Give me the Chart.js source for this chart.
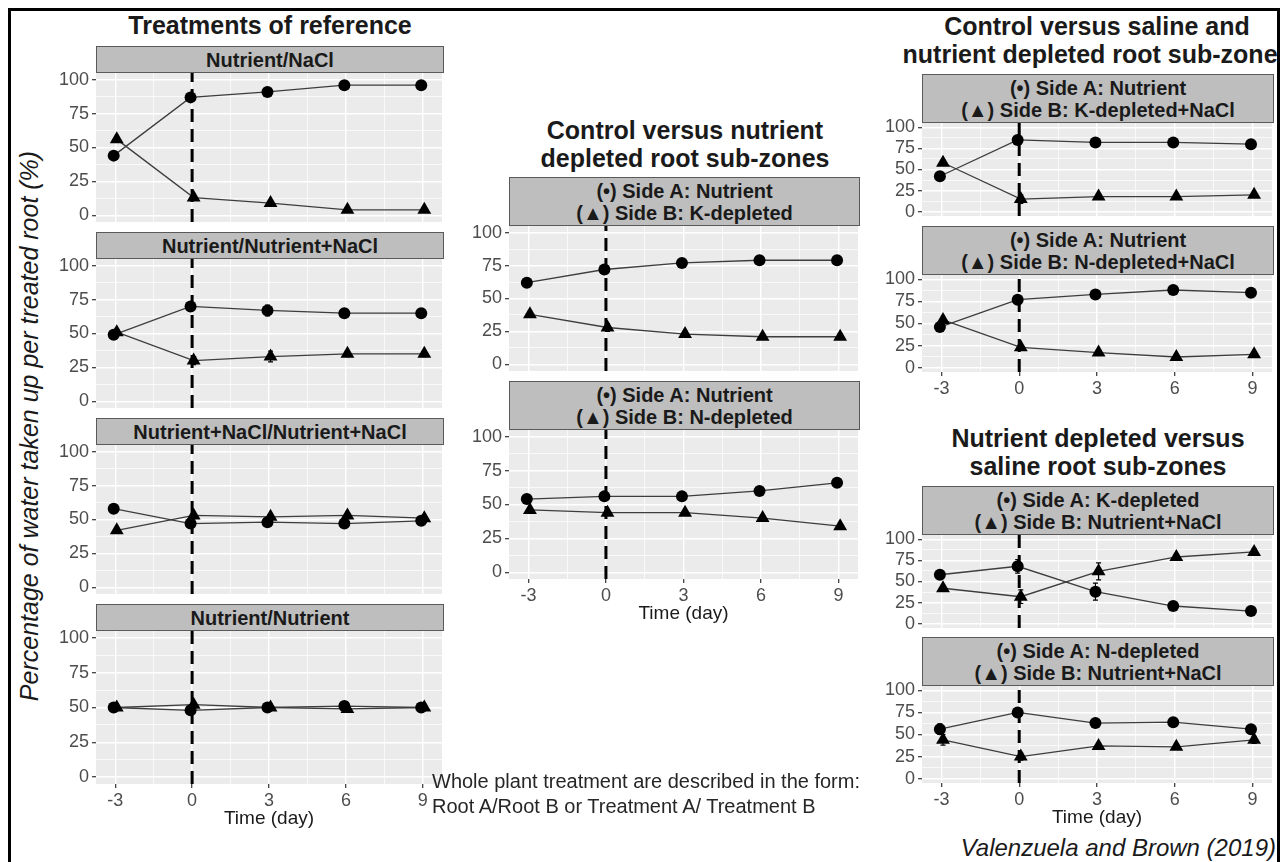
<!DOCTYPE html>
<html lang="en">
<head>
<meta charset="UTF-8">
<title>Percentage of water taken up per treated root</title>
<script src="https://cdn.jsdelivr.net/npm/chart.js"></script>
<style>
  body { margin: 0; background: #fff; font-family: "Liberation Sans", Arial, sans-serif; }
  #fig { position: relative; width: 1280px; height: 862px; overflow: hidden; }
  #frame { position: absolute; left: 8px; top: 8px; width: 1272px; height: 880px; border: 3px solid #000; box-sizing: border-box; z-index: 10; }
  .title { position: absolute; width: 600px; text-align: center; font-weight: bold; font-size: 25px; line-height: 28px; color: #1a1a1a; white-space: nowrap; }
  .strip { position: absolute; background: #bebebe; border: 1px solid #5a5a5a; box-sizing: border-box; display: flex; align-items: center; justify-content: center; text-align: center; font-weight: bold; font-size: 20px; line-height: 22px; color: #1a1a1a; z-index: 2; white-space: nowrap; }
  .panel { position: absolute; }
  .ylab { position: absolute; left: -321px; top: 411px; width: 700px; height: 30px; line-height: 30px; text-align: center; font-style: italic; font-size: 25px; color: #1a1a1a; transform: rotate(-90deg); white-space: nowrap; }
  .note { position: absolute; left: 432px; top: 769px; font-size: 20px; line-height: 25px; color: #262626; white-space: nowrap; z-index: 3; }
  .cite { position: absolute; left: 880px; top: 834px; width: 396px; text-align: right; font-style: italic; font-size: 24px; line-height: 28px; color: #1a1a1a; white-space: nowrap; }
</style>
</head>
<body>
<div id="fig">
  <div id="frame"></div>
  <div class="title" style="left:-30px; top:11px;">Treatments of reference</div>
  <div class="title" style="left:385px; top:116px;">Control versus nutrient<br>depleted root sub-zones</div>
  <div class="title" style="left:797px; top:12px;">Control versus saline and<br>nutrient depleted root sub-zones</div>
  <div class="title" style="left:798px; top:424px;">Nutrient depleted versus<br>saline root sub-zones</div>
  <div class="ylab">Percentage of water taken up per treated root (%)</div>
  <div class="note">Whole plant treatment are described in the form:<br>Root A/Root B or Treatment A/ Treatment B</div>
  <div class="cite">Valenzuela and Brown (2019)</div>
</div>

<script>
    Chart.defaults.font.family = '"Liberation Sans", Arial, sans-serif';

    // time axis and tick values
    const days = [-3, 0, 3, 6, 9];
    const xMajor = [-3, 0, 3, 6, 9];
    const xMinor = [-1.5, 1.5, 4.5, 7.5];
    const yMajor = [0, 25, 50, 75, 100];
    const yMinor = [12.5, 37.5, 62.5, 87.5];

    // treatments of reference (side A = circle, side B = triangle)
    const nutNaClA = [44, 87, 91, 96, 96];
    const nutNaClB = [56, 13, 9, 4, 4];
    const nutNutNaClA = [49, 70, 67, 65, 65];
    const nutNutNaClB = [51, 30, 33, 35, 35];
    const nacNacA = [58, 47, 48, 47, 49];
    const nacNacB = [42, 53, 52, 53, 51];
    const nutNutA = [50, 48, 50, 51, 50];
    const nutNutB = [50, 52, 50, 49, 50];

    // control versus nutrient depleted
    const kDepA = [62, 72, 77, 79, 79];
    const kDepB = [38, 28, 23, 21, 21];
    const nDepA = [54, 56, 56, 60, 66];
    const nDepB = [46, 44, 44, 40, 34];

    // control versus saline and nutrient depleted
    const kDepNaClA = [42, 85, 82, 82, 80];
    const kDepNaClB = [58, 15, 18, 18, 20];
    const nDepNaClA = [46, 77, 83, 88, 85];
    const nDepNaClB = [54, 23, 17, 12, 15];

    // nutrient depleted versus saline
    const kVsNaClA = [58, 68, 38, 21, 15];
    const kVsNaClB = [42, 32, 62, 79, 85];
    const nVsNaClA = [56, 75, 63, 64, 56];
    const nVsNaClB = [44, 25, 37, 36, 44];

    // standard errors (same for both sides)
    const noErr = [0, 0, 0, 0, 0];
    const nutNutNaClErr = [2, 3, 4, 2, 2];
    const kDepErr = [2, 3, 2, 2, 2];
    const kDepNaClErr = [3, 5, 2, 2, 2];
    const kVsNaClErr = [3, 8, 10, 3, 4];
    const nVsNaClErr = [6, 4, 3, 3, 4];

    const YW = 46, PT = 12, PR = 6;
    const fig = document.getElementById('fig');

    const panels = [
        { strip: 'Nutrient/NaCl', a: nutNaClA, b: nutNaClB, err: noErr, x: 96, y: 46, w: 348, sh: 27, ph: 153 },
        { strip: 'Nutrient/Nutrient+NaCl', a: nutNutNaClA, b: nutNutNaClB, err: nutNutNaClErr, x: 96, y: 232, w: 348, sh: 27, ph: 153 },
        { strip: 'Nutrient+NaCl/Nutrient+NaCl', a: nacNacA, b: nacNacB, err: noErr, x: 96, y: 418, w: 348, sh: 27, ph: 153 },
        { strip: 'Nutrient/Nutrient', a: nutNutA, b: nutNutB, err: noErr, x: 96, y: 604, w: 348, sh: 27, ph: 153, ticks: true, title: true },
        { strip: '(•) Side A: Nutrient<br>(▲) Side B: K-depleted', a: kDepA, b: kDepB, err: kDepErr, x: 509, y: 177, w: 351, sh: 49, ph: 149 },
        { strip: '(•) Side A: Nutrient<br>(▲) Side B: N-depleted', a: nDepA, b: nDepB, err: noErr, x: 509, y: 381, w: 351, sh: 49, ph: 149, ticks: true, title: true },
        { strip: '(•) Side A: Nutrient<br>(▲) Side B: K-depleted+NaCl', a: kDepNaClA, b: kDepNaClB, err: kDepNaClErr, x: 922, y: 74, w: 352, sh: 49, ph: 97 },
        { strip: '(•) Side A: Nutrient<br>(▲) Side B: N-depleted+NaCl', a: nDepNaClA, b: nDepNaClB, err: noErr, x: 922, y: 226, w: 352, sh: 49, ph: 97, ticks: true },
        { strip: '(•) Side A: K-depleted<br>(▲) Side B: Nutrient+NaCl', a: kVsNaClA, b: kVsNaClB, err: kVsNaClErr, x: 922, y: 486, w: 352, sh: 49, ph: 97 },
        { strip: '(•) Side A: N-depleted<br>(▲) Side B: Nutrient+NaCl', a: nVsNaClA, b: nVsNaClB, err: nVsNaClErr, x: 922, y: 637, w: 352, sh: 49, ph: 97, ticks: true, title: true }
    ];

    const panelBg = {
        id: 'panelBg',
        beforeDraw(chart) {
            const { ctx, chartArea: { left, top, width, height } } = chart;
            ctx.save();
            ctx.fillStyle = '#ebebeb';
            ctx.fillRect(left, top, width, height);
            ctx.restore();
        }
    };

    const zeroLine = {
        id: 'zeroLine',
        beforeDatasetsDraw(chart) {
            const { ctx, chartArea, scales } = chart;
            const x = scales.x.getPixelForValue(0);
            ctx.save();
            ctx.beginPath();
            ctx.setLineDash([13, 7]);
            ctx.lineWidth = 3;
            ctx.strokeStyle = '#000';
            ctx.moveTo(x, chartArea.bottom);
            ctx.lineTo(x, chartArea.top);
            ctx.stroke();
            ctx.restore();
        }
    };

    const errorBars = {
        id: 'errorBars',
        afterDatasetsDraw(chart) {
            const { ctx, scales: { y } } = chart;
            chart.data.datasets.forEach((ds, di) => {
                if (!ds.err) return;
                const meta = chart.getDatasetMeta(di);
                meta.data.forEach((pt, i) => {
                    const e = ds.err[i];
                    if (!e) return;
                    const v = ds.data[i].y;
                    const y0 = y.getPixelForValue(v - e);
                    const y1 = y.getPixelForValue(v + e);
                    ctx.save();
                    ctx.strokeStyle = '#000';
                    ctx.lineWidth = 1.2;
                    ctx.beginPath();
                    ctx.moveTo(pt.x, y0); ctx.lineTo(pt.x, y1);
                    ctx.moveTo(pt.x - 2.5, y0); ctx.lineTo(pt.x + 2.5, y0);
                    ctx.moveTo(pt.x - 2.5, y1); ctx.lineTo(pt.x + 2.5, y1);
                    ctx.stroke();
                    ctx.restore();
                });
            });
        }
    };

    function makePanel(p) {
        const bottomH = p.title ? 46 : (p.ticks ? 26 : 0);
        const padBottom = bottomH ? 0 : 4;
        const cw = p.w + YW + PR;
        const ch = PT + p.ph + bottomH + padBottom;

        const strip = document.createElement('div');
        strip.className = 'strip';
        strip.style.left = p.x + 'px';
        strip.style.top = p.y + 'px';
        strip.style.width = p.w + 'px';
        strip.style.height = p.sh + 'px';
        strip.innerHTML = p.strip;
        fig.appendChild(strip);

        const wrap = document.createElement('div');
        wrap.className = 'panel';
        wrap.style.left = (p.x - YW) + 'px';
        wrap.style.top = (p.y + p.sh - PT) + 'px';
        const canvas = document.createElement('canvas');
        canvas.width = cw;
        canvas.height = ch;
        canvas.style.width = cw + 'px';
        canvas.style.height = ch + 'px';
        wrap.appendChild(canvas);
        fig.appendChild(wrap);

        const lineStyle = { showLine: true, borderColor: '#3d3d3d', borderWidth: 1.3, pointRadius: 0, fill: false };
        const ptsA = days.map((d, i) => ({ x: d - 0.06, y: p.a[i] }));
        const ptsB = days.map((d, i) => ({ x: d + 0.06, y: p.b[i] }));

        new Chart(canvas, {
            type: 'scatter',
            data: {
                datasets: [
                    { data: ptsA, pointStyle: 'circle', pointRadius: 6, backgroundColor: '#000', borderColor: '#000', borderWidth: 0, err: p.err },
                    { data: ptsB, pointStyle: 'triangle', pointRadius: 8, backgroundColor: '#000', borderColor: '#000', borderWidth: 0, err: p.err },
                    Object.assign({ data: ptsA }, lineStyle),
                    Object.assign({ data: ptsB }, lineStyle)
                ]
            },
            options: {
                responsive: false,
                animation: false,
                events: [],
                layout: { padding: { left: 0, top: PT, right: PR, bottom: padBottom } },
                plugins: { legend: { display: false }, tooltip: { enabled: false } },
                scales: {
                    x: {
                        type: 'linear',
                        min: -3.75,
                        max: 9.75,
                        afterBuildTicks: s => { s.ticks = xMajor.concat(xMinor).sort((m, n) => m - n).map(v => ({ value: v })); },
                        afterFit: s => { s.height = bottomH; s.paddingLeft = 0; s.paddingRight = 0; },
                        border: { display: false },
                        grid: {
                            color: '#ffffff',
                            lineWidth: c => xMajor.includes(c.tick.value) ? 1.4 : 0.7,
                            drawTicks: !!p.ticks,
                            tickLength: 4,
                            tickWidth: 1.2,
                            tickColor: c => xMajor.includes(c.tick.value) ? '#333333' : 'rgba(0,0,0,0)'
                        },
                        ticks: {
                            display: !!p.ticks,
                            autoSkip: false,
                            maxRotation: 0,
                            padding: 2,
                            color: '#4d4d4d',
                            font: { size: 18 },
                            callback: v => xMajor.includes(v) ? String(v) : ''
                        },
                        title: {
                            display: !!p.title,
                            text: 'Time (day)',
                            color: '#1a1a1a',
                            font: { size: 19 },
                            padding: { top: 0, bottom: 0 }
                        }
                    },
                    y: {
                        min: -5,
                        max: 105,
                        afterBuildTicks: s => { s.ticks = yMajor.concat(yMinor).sort((m, n) => m - n).map(v => ({ value: v })); },
                        afterFit: s => { s.width = YW; s.paddingTop = 0; s.paddingBottom = 0; },
                        border: { display: false },
                        grid: {
                            color: '#ffffff',
                            lineWidth: c => yMajor.includes(c.tick.value) ? 1.4 : 0.7,
                            tickLength: 4,
                            tickWidth: 1.2,
                            tickColor: c => yMajor.includes(c.tick.value) ? '#333333' : 'rgba(0,0,0,0)'
                        },
                        ticks: {
                            autoSkip: false,
                            padding: 3,
                            color: '#4d4d4d',
                            font: { size: 18 },
                            callback: v => yMajor.includes(v) ? String(v) : ''
                        }
                    }
                }
            },
            plugins: [panelBg, zeroLine, errorBars]
        });
    }

    panels.forEach(makePanel);
</script>
</body>
</html>
